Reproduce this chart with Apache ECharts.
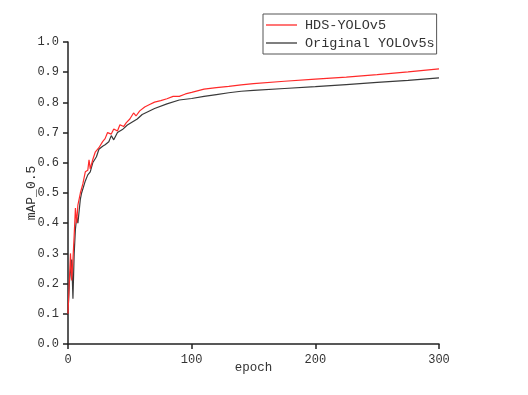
<!DOCTYPE html>
<html>
<head>
<meta charset="utf-8">
<script src="https://cdn.jsdelivr.net/npm/echarts@6/dist/echarts.min.js"></script>
<style>
  html, body { margin: 0; padding: 0; background: #fff; }
  #chart { width: 528px; height: 395px; }
</style>
</head>
<body>
<div id="chart"></div>
<script>
// values: [epoch, mAP_0.5]
const hdsEpochs = [0, 1, 2, 3, 4, 5, 6, 7, 8, 10, 12, 14, 16, 17, 18, 20, 22, 25, 28, 30, 32, 35, 37, 40, 42, 45, 47, 50, 53, 55, 58, 62, 66, 70, 75, 80, 85, 90, 95, 100, 110, 120, 130, 140, 150, 175, 200, 225, 250, 275, 300];
const hdsValues = [0.10, 0.20, 0.30, 0.21, 0.28, 0.36, 0.45, 0.40, 0.46, 0.50, 0.53, 0.57, 0.575, 0.61, 0.58, 0.61, 0.635, 0.65, 0.67, 0.68, 0.70, 0.695, 0.712, 0.705, 0.726, 0.72, 0.732, 0.745, 0.765, 0.755, 0.772, 0.785, 0.793, 0.801, 0.806, 0.812, 0.82, 0.82, 0.828, 0.833, 0.844, 0.849, 0.853, 0.858, 0.862, 0.87, 0.877, 0.884, 0.892, 0.901, 0.911];

const origEpochs = [0, 1, 2, 3, 4, 5, 6, 7, 8, 10, 11, 12, 14, 16, 18, 20, 23, 25, 28, 30, 33, 35, 37, 40, 44, 48, 52, 56, 60, 65, 70, 80, 90, 100, 110, 120, 130, 140, 150, 175, 200, 225, 250, 275, 300];
const origValues = [0.10, 0.20, 0.20, 0.28, 0.15, 0.30, 0.38, 0.42, 0.40, 0.48, 0.50, 0.496, 0.54, 0.56, 0.57, 0.60, 0.62, 0.645, 0.655, 0.66, 0.67, 0.69, 0.676, 0.70, 0.71, 0.725, 0.735, 0.745, 0.76, 0.77, 0.78, 0.795, 0.808, 0.813, 0.82, 0.826, 0.832, 0.837, 0.84, 0.846, 0.852, 0.859, 0.866, 0.873, 0.881];

const seriesNames = ['HDS-YOLOv5', 'Original YOLOv5s'];
const xTicks = { min: 0, max: 300, step: 100 };
const yTicks = { min: 0, max: 1, step: 0.1 };

const font = '"Liberation Mono", "DejaVu Sans Mono", monospace';

function pairs(xs, ys) {
  return xs.map((x, i) => [x, ys[i]]);
}

const chart = echarts.init(document.getElementById('chart'));

chart.setOption({
  animation: false,
  backgroundColor: '#fff',
  grid: { left: 68, right: 89, top: 42, bottom: 51 },
  legend: {
    orient: 'vertical',
    left: 263,
    top: 14,
    padding: [4, 2, 4, 3],
    icon: 'rect',
    itemWidth: 31,
    itemHeight: 1.3,
    itemGap: 4,
    borderColor: '#555',
    borderWidth: 1,
    textStyle: { fontFamily: font, fontSize: 13.5, lineHeight: 14, color: '#333', padding: [0, 0, 0, 3] },
    data: seriesNames
  },
  xAxis: {
    type: 'value',
    min: xTicks.min,
    max: xTicks.max,
    interval: xTicks.step,
    name: 'epoch',
    nameLocation: 'middle',
    nameGap: 17,
    nameMoveOverlap: false,
    nameTextStyle: { fontFamily: font, fontSize: 12.5, color: '#333' },
    axisLine: { lineStyle: { color: '#222', width: 1.5 } },
    axisTick: { show: true, length: 5, lineStyle: { color: '#222', width: 1.5 } },
    axisLabel: { fontFamily: font, fontSize: 12, color: '#333', margin: 10 },
    splitLine: { show: false }
  },
  yAxis: {
    type: 'value',
    min: yTicks.min,
    max: yTicks.max,
    interval: yTicks.step,
    name: 'mAP_0.5',
    nameLocation: 'middle',
    nameGap: 30,
    nameMoveOverlap: false,
    nameTextStyle: { fontFamily: font, fontSize: 13, color: '#333' },
    axisLine: { show: true, lineStyle: { color: '#222', width: 1.5 } },
    axisTick: { show: true, length: 5, lineStyle: { color: '#222', width: 1.5 } },
    axisLabel: {
      fontFamily: font, fontSize: 12, color: '#333', margin: 9,
      formatter: v => v.toFixed(1)
    },
    splitLine: { show: false }
  },
  series: [
    {
      name: seriesNames[0],
      type: 'line',
      symbol: 'none',
      data: pairs(hdsEpochs, hdsValues),
      lineStyle: { color: '#ff2a2a', width: 1.2 },
      itemStyle: { color: '#ff2a2a' },
      z: 3
    },
    {
      name: seriesNames[1],
      type: 'line',
      symbol: 'none',
      data: pairs(origEpochs, origValues),
      lineStyle: { color: '#3a3a3a', width: 1.2 },
      itemStyle: { color: '#3a3a3a' },
      z: 2
    }
  ]
});
</script>
</body>
</html>
